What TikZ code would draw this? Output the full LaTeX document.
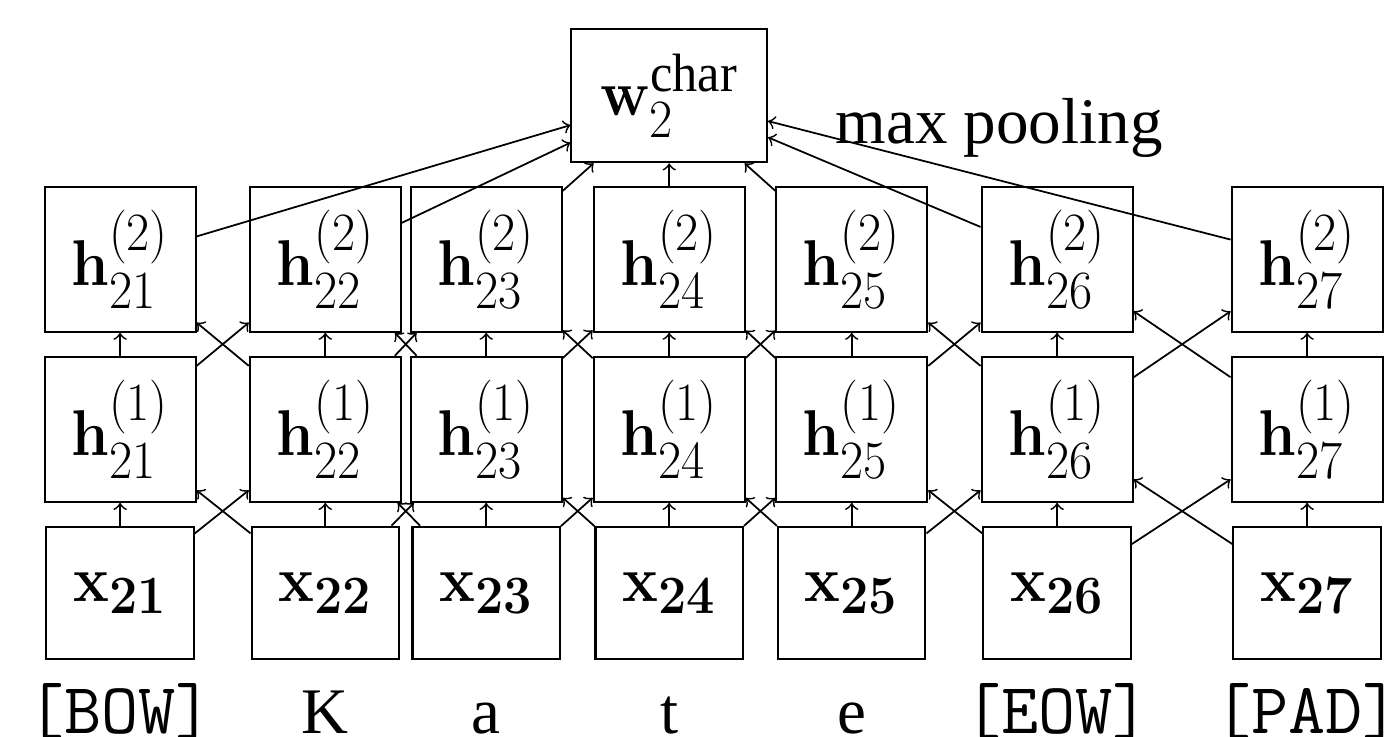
\documentclass[tikz,border=0pt]{standalone}
\usepackage{amsmath}
\usepackage[no-math]{fontspec}
\setmainfont{Liberation Serif}

% cell contents: big math, squeezed to the box size
\newcommand{\cell}[1]{\scalebox{0.69}[0.74]{\Huge$#1$}}
% special tokens under the columns
\newcommand{\tok}[1]{\texttt{\fontsize{20.5}{24}\selectfont[#1]}}

\tikzset{
  hbox/.style={draw, line width=0.6pt, minimum width=1.51cm, minimum height=1.45cm, inner sep=0pt},
  xbox/.style={draw, line width=0.6pt, minimum width=1.474cm, minimum height=1.326cm, inner sep=0pt},
  conn/.style={->, line width=0.5pt},
  word/.style={anchor=base, inner sep=0pt, font=\fontsize{18.5}{22}\selectfont},
}

\begin{document}
\begin{tikzpicture}
  \useasboundingbox (0,0) rectangle (13.92,7.37);

  % one column per character: index / x position / character
  \foreach \i/\xx/\lab in {1/1.201/{\tok{BOW}}, 2/3.253/K, 3/4.862/a, 4/6.692/t,
                           5/8.517/e, 6/10.571/{\tok{EOW}}, 7/13.071/{\tok{PAD}}} {
    \node[xbox] (x\i)  at (\xx,1.44)  {\cell{\mathbf{x_{2\i}}}};
    \node[hbox] (ha\i) at (\xx,3.077) {\cell{\mathbf{h}^{(1)}_{2\i}}};
    \node[hbox] (hb\i) at (\xx,4.778) {\cell{\mathbf{h}^{(2)}_{2\i}}};
    \node[word] (lab\i) at (\xx,0.03) {\lab};
  }

  % pooled word vector
  \node[hbox, minimum width=1.956cm, minimum height=1.33cm] (w) at (6.692,6.412)
    {\cell{\mathbf{w}_2^{\text{char}}}};
  \node[word, anchor=base west] (pool) at (8.35,5.937) {max pooling};

  % straight up + into the pooling box
  \foreach \i in {1,...,7} {
    \draw[conn] (x\i) -- (ha\i);
    \draw[conn] (ha\i) -- (hb\i);
    \draw[conn] (hb\i) -- (w);
  }

  % crossing connections between neighbours
  \foreach \i in {1,...,6} {
    \pgfmathtruncatemacro{\j}{\i+1}
    \draw[conn] (x\i) -- (ha\j);
    \draw[conn] (x\j) -- (ha\i);
    \draw[conn] (ha\i) -- (hb\j);
    \draw[conn] (ha\j) -- (hb\i);
  }
\end{tikzpicture}
\end{document}
